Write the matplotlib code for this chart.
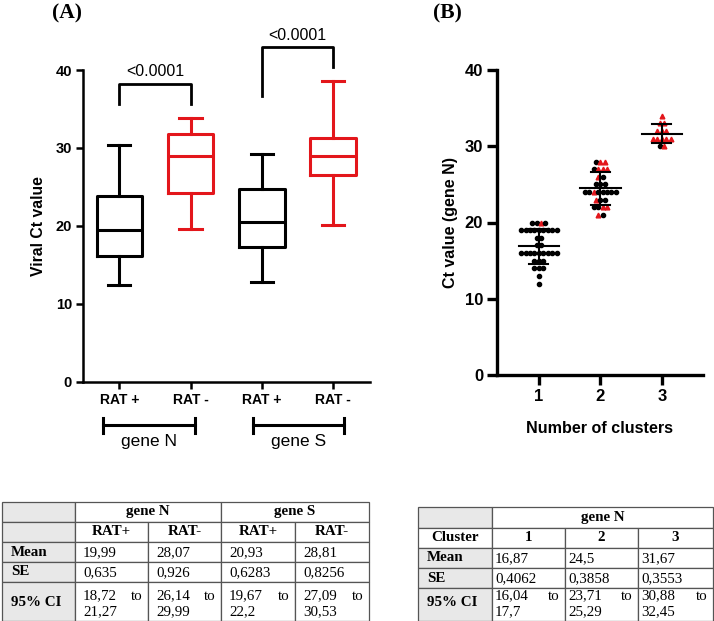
import numpy as np
import matplotlib.pyplot as plt
from matplotlib.patches import Rectangle

plt.rcParams['font.family'] = ['Liberation Sans', 'DejaVu Sans']

# ---- panel A: box plot summary (Viral Ct value) ----
box_labels = ['RAT +', 'RAT -', 'RAT +', 'RAT -']
box_colors = ['black', '#e3161b', 'black', '#e3161b']
whislo = [12.4, 19.6, 12.8, 20.1]
q1 = [16.1, 24.2, 17.3, 26.5]
med = [19.5, 28.9, 20.5, 29.0]
q3 = [23.8, 31.8, 24.7, 31.3]
whishi = [30.4, 33.8, 29.2, 38.6]
genes = ['gene N', 'gene S']
p_text = ['<0.0001', '<0.0001']

# ---- panel B: Ct values per cluster (value, group) ----
clusters = [1, 2, 3]
c1_vals = [20, 20, 20, 20, 19, 19, 19, 19, 19, 19, 19, 19, 19, 18, 18, 17, 17,
           16, 16, 16, 16, 16, 16, 16, 16, 16, 15, 15, 15, 14, 14, 14, 13, 12]
c1_grp = ['k', 'k', 'r', 'k'] + ['k'] * 30
c2_vals = [28, 28, 28, 27, 27, 27, 27, 26, 26, 25, 25, 25,
           24, 24, 24, 24, 24, 24, 24, 24, 23, 23, 23, 22, 22, 22, 22, 21, 21]
c2_grp = ['k', 'r', 'r', 'k', 'r', 'r', 'r', 'r', 'k', 'k', 'k', 'k',
          'k', 'k', 'r', 'k', 'k', 'k', 'k', 'k', 'r', 'k', 'k', 'k', 'k', 'r', 'r', 'r', 'k']
c3_vals = [34, 33, 33, 32, 32, 32, 31, 31, 31, 31, 31, 30, 30]
c3_grp = ['r', 'r', 'r', 'r', 'r', 'r', 'r', 'r', 'r', 'r', 'r', 'k', 'r']
cl_mean = [16.87, 24.5, 31.67]
cl_sd = [2.25, 2.15, 1.2]

# ---- tables ----
tabA_groups = ['gene N', 'gene S']
tabA_cols = ['RAT+', 'RAT-', 'RAT+', 'RAT-']
tabA_mean = ['19,99', '28,07', '20,93', '28,81']
tabA_se = ['0,635', '0,926', '0,6283', '0,8256']
tabA_ci = [('18,72', '21,27'), ('26,14', '29,99'), ('19,67', '22,2'), ('27,09', '30,53')]
tabB_group = 'gene N'
tabB_cols = ['1', '2', '3']
tabB_mean = ['16,87', '24,5', '31,67']
tabB_se = ['0,4062', '0,3858', '0,3553']
tabB_ci = [('16,04', '17,7'), ('23,71', '25,29'), ('30,88', '32,45')]
row_names = ['Mean', 'SE', '95% CI']

W, H = 714, 621
fig = plt.figure(figsize=(W / 100, H / 100), dpi=100)

red = '#e3161b'

# ================= panel A =================
axA = fig.add_axes([83 / W, 1 - 381.7 / H, 287 / W, 311.7 / H])
pos = np.arange(1, 5)
stats = [dict(whislo=whislo[i], q1=q1[i], med=med[i], q3=q3[i], whishi=whishi[i])
         for i in range(4)]
for i in range(4):
    c = box_colors[i]
    lp = dict(color=c, linewidth=2.2)
    axA.bxp([stats[i]], positions=[pos[i]], widths=0.64, capwidths=0.31,
            showfliers=False, boxprops=lp, whiskerprops=lp, capprops=lp,
            medianprops=lp, manage_ticks=False)
axA.set_xlim(0.49, 4.52)
axA.set_ylim(0, 40)
axA.set_yticks([0, 10, 20, 30, 40])
axA.set_xticks(pos)
axA.set_xticklabels(box_labels, fontweight='bold', fontsize=10)
for lab in axA.get_yticklabels():
    lab.set_fontweight('bold')
    lab.set_fontsize(10.5)
axA.spines[['top', 'right']].set_visible(False)
for s in ['left', 'bottom']:
    axA.spines[s].set_linewidth(1.8)
axA.tick_params(width=1.8, length=5, pad=3)
axA.set_ylabel('Viral Ct value', fontweight='bold', fontsize=11.3, labelpad=7)

# significance brackets
axA.plot([1, 1, 2, 2], [35.6, 38.2, 38.2, 35.6], color='black', lw=2.0, clip_on=False)
axA.text(1.5, 38.9, p_text[0], ha='center', va='bottom', fontsize=11.5)
axA.plot([3, 3, 4, 4], [36.7, 42.9, 42.9, 40.4], color='black', lw=2.0, clip_on=False)
axA.text(3.5, 43.5, p_text[1], ha='center', va='bottom', fontsize=11.5)

# gene group brackets
for (x0, x1), g in zip([(0.775, 2.067), (2.88, 4.16)], genes):
    axA.plot([x0, x1], [-5.6, -5.6], color='black', lw=2.2, clip_on=False)
    for x in (x0, x1):
        axA.plot([x, x], [-4.6, -6.6], color='black', lw=2.2, clip_on=False)
    axA.text((x0 + x1) / 2, -6.7, g, ha='center', va='top', fontsize=12.5)

# ================= panel B =================
axB = fig.add_axes([497 / W, 1 - 375 / H, 206 / W, 305 / H])
step = 0.072
for cx, vals, grp in zip(clusters, [c1_vals, c2_vals, c3_vals], [c1_grp, c2_grp, c3_grp]):
    vals = np.array(vals, dtype=float)
    grp = np.array(grp)
    for v in np.unique(vals):
        idx = np.where(vals == v)[0]
        offs = (np.arange(len(idx)) - (len(idx) - 1) / 2) * step
        for o, j in zip(offs, idx):
            if grp[j] == 'r':
                axB.plot(cx + o, v, marker='^', color=red, markersize=3.4, ls='none')
            else:
                axB.plot(cx + o, v, marker='o', color='black', markersize=3.0, ls='none')
for cx, m, sd in zip(clusters, cl_mean, cl_sd):
    axB.plot([cx - 0.33, cx + 0.33], [m, m], color='black', lw=1.5)
    axB.plot([cx, cx], [m - sd, m + sd], color='black', lw=1.5)
    for y in (m - sd, m + sd):
        axB.plot([cx - 0.155, cx + 0.155], [y, y], color='black', lw=1.5)
axB.set_xlim(0.32, 3.67)
axB.set_ylim(0, 40)
axB.set_yticks([0, 10, 20, 30, 40])
axB.set_xticks(clusters)
for lab in axB.get_yticklabels() + axB.get_xticklabels():
    lab.set_fontweight('bold')
    lab.set_fontsize(12)
axB.spines[['top', 'right']].set_visible(False)
for s in ['left', 'bottom']:
    axB.spines[s].set_linewidth(2.4)
axB.tick_params(width=2.4, length=7, pad=3)
axB.set_ylabel('Ct value (gene N)', fontweight='bold', fontsize=11.5, labelpad=5)
axB.set_xlabel('Number of clusters', fontweight='bold', fontsize=11.6, labelpad=12)

fig.text(67 / W, 1 - 13 / H, '(A)', family='Liberation Serif', fontweight='bold',
         fontsize=15.5, ha='center', va='center')
fig.text(447 / W, 1 - 13 / H, '(B)', family='Liberation Serif', fontweight='bold',
         fontsize=15.5, ha='center', va='center')

# ================= tables =================
tab = fig.add_axes([0, 0, 1, 1])
tab.set_xlim(0, W)
tab.set_ylim(H, 0)
tab.axis('off')
gray = '#e8e8e8'
edge = '#555555'
tfont = dict(family='Liberation Serif', fontsize=10.8)


def cell(x0, x1, y0, y1, fill='white'):
    tab.add_patch(Rectangle((x0, y0), x1 - x0, y1 - y0, facecolor=fill,
                            edgecolor=edge, linewidth=0.9))


def draw_table(xs, ys, groups, spans, cols, first_hdr):
    # header group row
    cell(xs[0], xs[1], ys[0], ys[1], gray)
    for g, (a, b) in zip(groups, spans):
        cell(xs[a], xs[b], ys[0], ys[1])
        tab.text((xs[a] + xs[b]) / 2, (ys[0] + ys[1]) / 2, g, ha='center',
                 va='center', fontweight='bold', **tfont)
    # column header row
    cell(xs[0], xs[1], ys[1], ys[2], gray if first_hdr == '' else 'white')
    tab.text((xs[0] + xs[1]) / 2, (ys[1] + ys[2]) / 2, first_hdr, ha='center',
             va='center', fontweight='bold', **tfont)
    for k, c in enumerate(cols):
        cell(xs[k + 1], xs[k + 2], ys[1], ys[2])
        tab.text((xs[k + 1] + xs[k + 2]) / 2, (ys[1] + ys[2]) / 2, c, ha='center',
                 va='center', fontweight='bold', **tfont)


def draw_body(xs, ys, mean, se, ci, pad):
    for r, name in enumerate(row_names):
        y0, y1 = ys[r + 2], ys[r + 3]
        cell(xs[0], xs[1], y0, y1, gray)
        yc = (y0 + y1) / 2 if r < 2 else 603
        tab.text(xs[0] + 9, yc, name, ha='left', va='center',
                 fontweight='bold', **tfont)
    for k in range(len(mean)):
        for r, v in enumerate([mean[k], se[k]]):
            y0, y1 = ys[r + 2], ys[r + 3]
            cell(xs[k + 1], xs[k + 2], y0, y1)
            tab.text(xs[k + 1] + pad, (y0 + y1) / 2 + 1, v, ha='left', va='center', **tfont)
        y0, y1 = ys[4], ys[5]
        cell(xs[k + 1], xs[k + 2], y0, y1)
        tab.text(xs[k + 1] + pad, 596, ci[k][0], ha='left', va='center', **tfont)
        tab.text(xs[k + 2] - 5, 596, 'to', ha='right', va='center', **tfont)
        tab.text(xs[k + 1] + pad, 611.5, ci[k][1], ha='left', va='center', **tfont)


xsA = [2, 75, 148, 221, 295, 369]
ysA = [502, 521.7, 542, 562, 581.7, 620.5]
draw_table(xsA, ysA, tabA_groups, [(1, 3), (3, 5)], tabA_cols, '')
draw_body(xsA, ysA, tabA_mean, tabA_se, tabA_ci, 8)

xsB = [418, 492, 565, 638, 713]
ysB = [507, 528, 547.5, 568, 588, 620.5]
draw_table(xsB, ysB, [tabB_group], [(1, 4)], tabB_cols, 'Cluster')
draw_body(xsB, ysB, tabB_mean, tabB_se, tabB_ci, 3)

fig.savefig('out.png', dpi=100)
